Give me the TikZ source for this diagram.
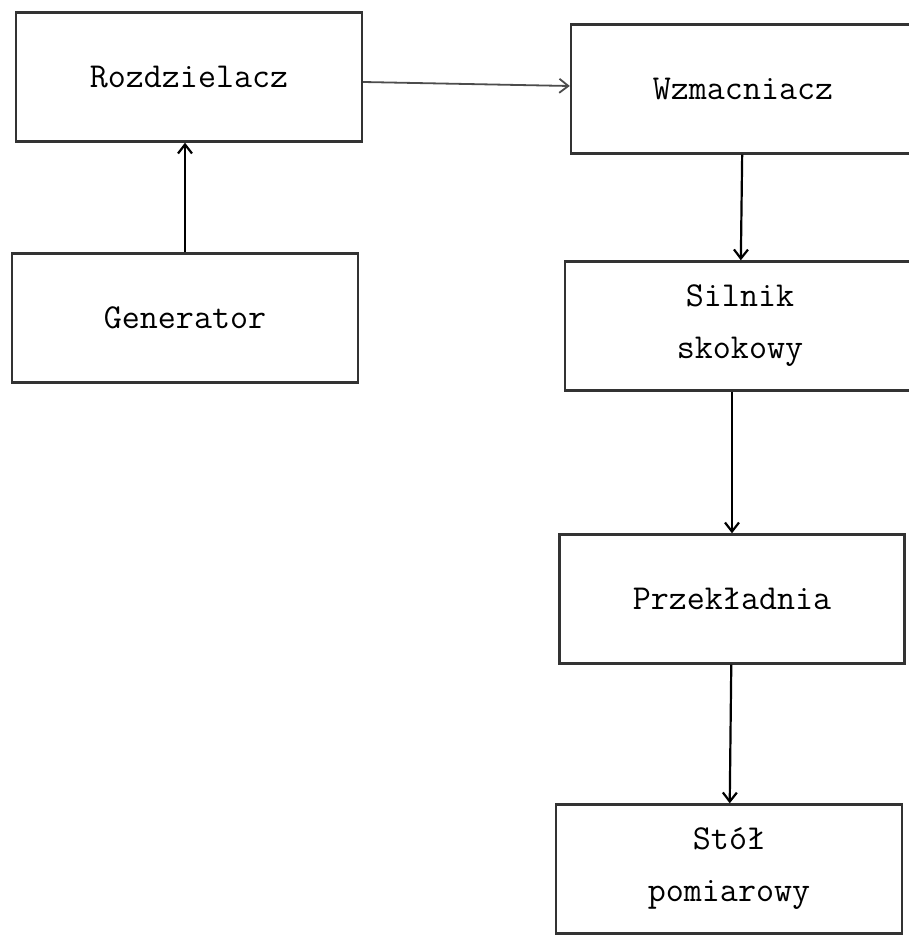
\documentclass[tikz,border=0pt]{standalone}
\usepackage{fontspec}
\usetikzlibrary{arrows.meta}

\begin{document}
\begin{tikzpicture}[x=1pt, y=-1pt,
  block/.style={draw=black!80, line width=2.4pt, inner sep=0pt, align=center,
    minimum width=346pt, minimum height=129pt,
    font=\ttfamily\fontsize{35}{52}\selectfont},
  >={Straight Barb[length=9pt,width=14pt]}]
\useasboundingbox (0,0) rectangle (909,936);
\clip (0,0) rectangle (909,936);
\node[block] (roz) at (189,77) {Rozdzielacz};
\node[block] (gen) at (185,318) {Generator};
\node[block, minimum width=344pt] (wzm) at (743,89) {Wzmacniacz};
\node[block, minimum width=350pt] (sil) at (740,326) {Silnik\\skokowy};
\node[block, minimum width=345pt] (prz) at (732,599) {Przekładnia};
\node[block] (sto) at (729,869) {Stół\\pomiarowy};
\draw[->, draw=black!70, line width=1.8pt] ([yshift=-5pt]roz.east) -- ([yshift=3pt]wzm.west);
\draw[->, line width=2.2pt] (gen.north) -- (gen.north |- roz.south);
\draw[->, line width=2.2pt] (wzm) -- (sil);
\draw[->, line width=2.2pt] (sil.south -| prz.north) -- (prz.north);
\draw[->, line width=2.2pt] (prz) -- (sto);
\end{tikzpicture}
\end{document}
